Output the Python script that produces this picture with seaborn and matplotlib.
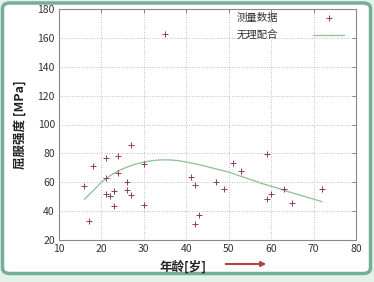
import matplotlib
matplotlib.use("Agg")
import matplotlib.pyplot as plt
import seaborn as sns
import pandas as pd
from matplotlib.patches import FancyBboxPatch, FancyArrowPatch

sns.set_theme(style="white")
plt.rcParams['font.family'] = ['Noto Sans CJK SC', 'DejaVu Sans']

# measured data (age, yield strength)
age = [16, 17, 18, 21, 21, 21, 22, 23, 23, 24, 24, 26, 26, 27, 27, 30, 30, 35,
       41, 42, 42, 43, 47, 49, 51, 53, 59, 59, 60, 63, 65, 72]
strength = [57.4, 33.2, 71.5, 77, 63.2, 51.8, 50.5, 53.9, 43.3, 78.2, 66.6, 60.4,
            54.8, 86, 50.9, 72.8, 44.5, 162.4, 63.8, 58, 31, 37.5, 60.4, 55.3,
            73.5, 67.5, 79.5, 48.2, 51.8, 55.3, 45.8, 55.3]

# fitted curve
fit_x = [16, 18, 20, 22, 24, 26, 28, 30, 32, 34, 36, 38, 40, 42, 44, 46, 48, 50,
         52, 54, 56, 58, 60, 62, 64, 66, 68, 70, 72]
fit_y = [48.3, 54, 60, 64.5, 68, 70.5, 72.5, 74, 75, 75.5, 75.5, 75, 74, 72.8,
         71.5, 70, 68.5, 67, 65, 63, 61, 59, 57.3, 55.5, 53.5, 51.8, 50, 48.3, 46.5]

x_ticks = [10, 20, 30, 40, 50, 60, 70, 80]
y_ticks = [20, 40, 60, 80, 100, 120, 140, 160, 180]

pts = pd.DataFrame({"age": age, "strength": strength})
fit = pd.DataFrame({"x": fit_x, "y": fit_y})

W, H = 374, 282
fig = plt.figure(figsize=(W / 100, H / 100), dpi=100)
fig.patch.set_facecolor('#e2f2eb')
frame = FancyBboxPatch((2.5 / W, 8.5 / H), 368 / W, 270.5 / H,
                       boxstyle="round,pad=0,rounding_size=0.02",
                       transform=fig.transFigure, facecolor='white',
                       edgecolor='#76ad99', linewidth=2.5, zorder=-5)
fig.patches.append(frame)

ax = fig.add_axes([59 / W, 42 / H, 297 / W, 231 / H])
ax.set_zorder(1)
ax.set_facecolor('white')

sns.scatterplot(data=pts, x="age", y="strength", marker='+', s=16,
                color='#8c3c5c', linewidth=0.7, ax=ax, label='测量数据', zorder=3)
sns.lineplot(data=fit, x="x", y="y", color='#98c49a', linewidth=1.0, ax=ax,
             label='无理配合', zorder=2)

ax.set_xlim(10, 80)
ax.set_ylim(20, 180)
ax.set_xticks(x_ticks)
ax.set_yticks(y_ticks)
ax.tick_params(axis='both', which='both', direction='in', length=3, width=0.6,
               color='#777777', labelsize=7.5, labelcolor='#333333',
               top=True, right=True, pad=3)
ax.grid(True, linestyle=(0, (1, 2)), color='#aaaaaa', linewidth=0.6)
for s in ax.spines.values():
    s.set_color('#888888')
    s.set_linewidth(0.8)

ax.set_xlabel('年龄[岁]', fontsize=9, fontweight='bold', color='#222222')
ax.xaxis.set_label_coords((183 - 59) / 297, (22 - 42) / 231)
ax.set_ylabel('屈服强度 [MPa]', fontsize=9, fontweight='bold', color='#222222')
ax.yaxis.set_label_coords((27 - 59) / 297, 0.5)

leg = ax.legend(loc='upper right', frameon=False, markerfirst=False, fontsize=7.5,
                handlelength=3.0, borderaxespad=0.0, labelspacing=0.7,
                handletextpad=3.4, bbox_to_anchor=(0.975, 1.003))
for t in leg.get_texts():
    t.set_color('#333333')

arrow = FancyArrowPatch((223 / W, 18 / H), (269 / W, 18 / H),
                        transform=fig.transFigure, arrowstyle='-|>',
                        mutation_scale=7, color='#b5403c', linewidth=1.5, zorder=5)
fig.patches.append(arrow)

fig.savefig('out.png', dpi=100, facecolor=fig.get_facecolor())
